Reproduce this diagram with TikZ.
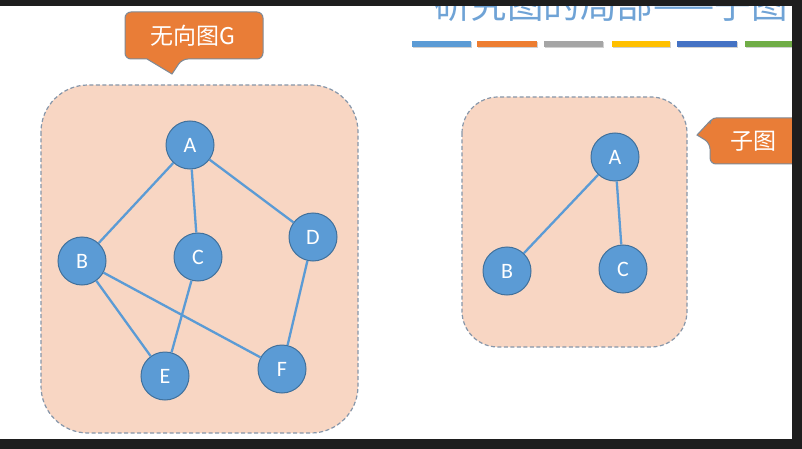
\documentclass[tikz,border=0pt]{standalone}
\usepackage{fontspec}
\setmainfont{Carlito}
\newfontfamily\cjk{Noto Sans CJK SC}
\definecolor{nodefill}{HTML}{5B9BD5}
\definecolor{nodeline}{HTML}{41719C}
\definecolor{peach}{HTML}{F8D6C3}
\definecolor{dashc}{HTML}{8797AA}
\definecolor{callout}{HTML}{E97D37}
\definecolor{callline}{HTML}{7F8A96}
\definecolor{darkstrip}{HTML}{1E1E1E}
\definecolor{titlec}{HTML}{6FA3D6}
\definecolor{barA}{HTML}{5B9BD5}
\definecolor{barB}{HTML}{ED7D31}
\definecolor{barC}{HTML}{A5A5A5}
\definecolor{barD}{HTML}{FFC000}
\definecolor{barE}{HTML}{4472C4}
\definecolor{barF}{HTML}{70AD47}
\tikzset{
  vert/.style={circle, fill=nodefill, draw=nodeline, line width=1pt, minimum size=48pt, inner sep=0pt, text=white, font=\fontsize{22}{22}\selectfont},
  edge/.style={draw=nodefill, line width=2.3pt},
  panel/.style={fill=peach, draw=dashc, dashed, dash pattern=on 4pt off 2.5pt, line width=1.2pt},
  bubble/.style={fill=callout, draw=callline, line width=1pt, rounded corners=6pt},
}
\begin{document}
\begin{tikzpicture}[x=1pt,y=-1pt]
\useasboundingbox (0,0) rectangle (802,449);
\fill[white] (0,0) rectangle (802,449);
\begin{scope}
\clip (0,0) rectangle (802,449);
% title (cut off at the top, as in the reference)
\node[text=titlec, font=\cjk\fontsize{36.5}{36.5}\selectfont, inner sep=0pt, anchor=center] (title) at (611,5) {研究图的局部——子图};
% bars
\foreach \xa/\xb/\c in {412/471/barA,477/537/barB,544/603/barC,612/670/barD,677/737/barE,745/805/barF}{
  \fill[black!18] (\xa+1,42.5) rectangle (\xb+1,48.5);
  \fill[\c] (\xa,41) rectangle (\xb,47);
}
% panels
\draw[panel] (41,85) [rounded corners=47pt] rectangle (358,433);
\draw[panel] (462,97) [rounded corners=36pt] rectangle (687,347);
% left callout
\draw[bubble] (125,12) -- (263,12) -- (263,59) -- (182,59) [sharp corners] -- (172,74) -- (147,59) [rounded corners=6pt] -- (125,59) -- cycle;
\node[text=white, font=\cjk\fontsize{23}{23}\selectfont, inner sep=0pt] (lbl1) at (193,36) {无向图G};
% right callout
\draw[bubble] (710,118) -- (805,118) -- (805,164) -- (710,164) -- (710,143) [sharp corners] -- (697,135) -- (710,121) [rounded corners=6pt] -- cycle;
\node[text=white, font=\cjk\fontsize{23}{23}\selectfont, inner sep=0pt] (lbl2) at (753,141) {子图};
% graph G
\node[vert] (A) at (190,145) {A};
\node[vert] (B) at (82,261) {B};
\node[vert] (C) at (198,257) {C};
\node[vert] (D) at (313,237) {D};
\node[vert] (E) at (165,376) {E};
\node[vert] (F) at (282,369) {F};
\draw[edge] (A) -- (B);
\draw[edge] (A) -- (C);
\draw[edge] (A) -- (D);
\draw[edge] (B) -- (E);
\draw[edge] (B) -- (F);
\draw[edge] (C) -- (E);
\draw[edge] (D) -- (F);
% subgraph
\node[vert] (A2) at (615,157) {A};
\node[vert] (B2) at (507,271) {B};
\node[vert] (C2) at (623,269) {C};
\draw[edge] (A2) -- (B2);
\draw[edge] (A2) -- (C2);
% dark frame strips
\fill[darkstrip] (0,0) rectangle (802,6);
\fill[darkstrip] (792,0) rectangle (802,449);
\fill[darkstrip] (0,439) rectangle (802,449);
\end{scope}
\end{tikzpicture}
\end{document}
